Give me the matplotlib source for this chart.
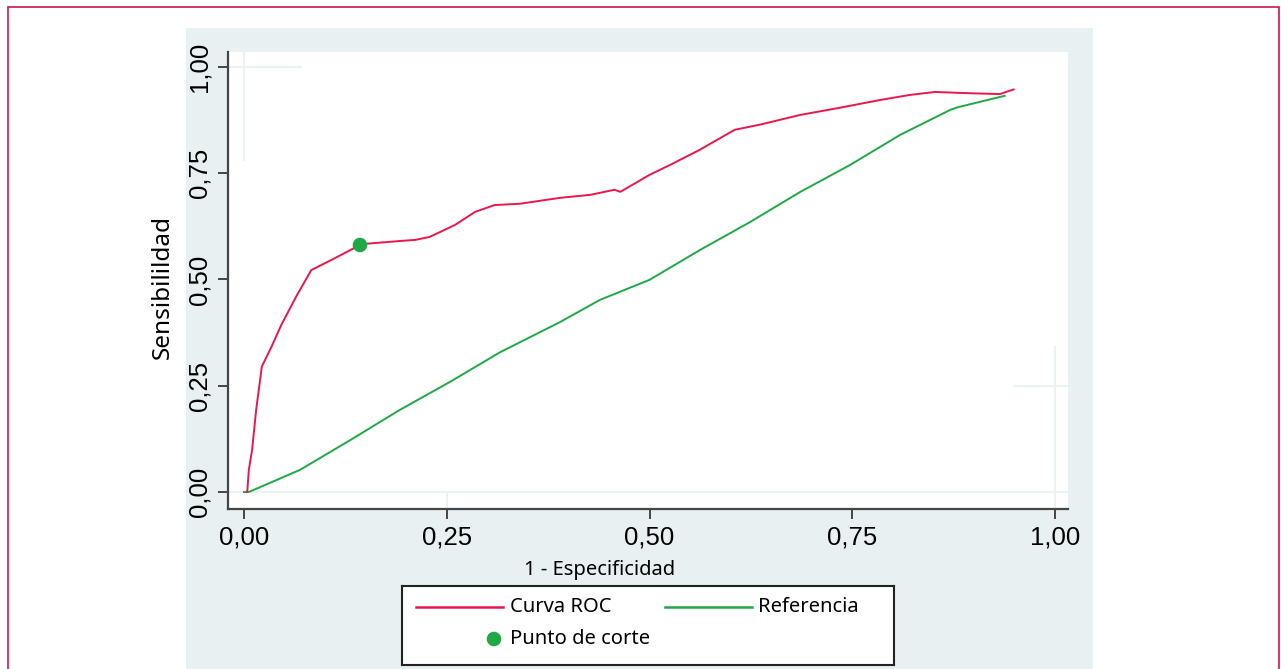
import matplotlib.pyplot as plt
from matplotlib.lines import Line2D
from matplotlib.patches import Rectangle

# ROC curve (1 - especificidad, sensibilidad)
roc_x = [0.004, 0.006, 0.010, 0.015, 0.022, 0.034, 0.046, 0.065, 0.083, 0.110,
         0.143, 0.151, 0.196, 0.211, 0.229, 0.260, 0.285, 0.309, 0.340, 0.390,
         0.427, 0.457, 0.464, 0.500, 0.525, 0.562, 0.605, 0.636, 0.686, 0.735,
         0.784, 0.821, 0.852, 0.895, 0.932, 0.949]
roc_y = [0.000, 0.052, 0.099, 0.193, 0.295, 0.342, 0.393, 0.462, 0.522, 0.548,
         0.581, 0.584, 0.591, 0.593, 0.600, 0.628, 0.659, 0.675, 0.678, 0.692,
         0.699, 0.711, 0.706, 0.746, 0.769, 0.805, 0.852, 0.864, 0.887, 0.904,
         0.922, 0.934, 0.941, 0.938, 0.936, 0.947]

# reference line
ref_x = [0.000, 0.006, 0.069, 0.131, 0.192, 0.254, 0.316, 0.390, 0.439, 0.500,
         0.562, 0.624, 0.686, 0.747, 0.809, 0.871, 0.880, 0.938]
ref_y = [0.000, 0.000, 0.052, 0.122, 0.193, 0.259, 0.329, 0.400, 0.452, 0.499,
         0.569, 0.635, 0.706, 0.769, 0.840, 0.899, 0.905, 0.932]

# cut-off point
cut_x = [0.143]
cut_y = [0.581]

ticks = [0.0, 0.25, 0.50, 0.75, 1.0]
tick_labels = ["0,00", "0,25", "0,50", "0,75", "1,00"]

RED = "#e8174c"
GREEN = "#1fa845"
PANEL = "#e8f0f2"
FAINT = "#ebf2f4"
SPINE = "#454545"

fig = plt.figure(figsize=(12.81, 6.69), dpi=100)
fig.patch.set_facecolor("white")

# grey panel behind the graph
bg = fig.add_axes([186 / 1281, 0, 907 / 1281, 1 - 28 / 669], zorder=-2)
bg.axis("off")
bg.add_patch(Rectangle((0, 0), 1, 1, transform=bg.transAxes,
                       facecolor=PANEL, edgecolor="none"))

# outer frame
fig.patches.append(Rectangle((8 / 1281, -0.1), 1271 / 1281, 1.1 - 7 / 669,
                             transform=fig.transFigure, facecolor="none",
                             edgecolor="#c8164f", linewidth=1.2))

ax = fig.add_axes([228 / 1281, 1 - 509 / 669, 840 / 1281, 457 / 669])
ax.set_facecolor("white")
ax.set_xlim(-0.0197, 1.016)
ax.set_ylim(-0.04, 1.035)

# faint grid remnants
ax.axhline(0, color=FAINT, lw=1.5, zorder=1)
ax.plot([1.0, 1.0], [-0.04, 0.34], color=FAINT, lw=1.5, zorder=1)
ax.plot([0.95, 1.016], [0.25, 0.25], color=FAINT, lw=1.5, zorder=1)
ax.plot([-0.0197, 0.07], [1.0, 1.0], color=FAINT, lw=1.5, zorder=1)
ax.plot([0.0, 0.0], [0.78, 1.035], color=FAINT, lw=1.5, zorder=1)
ax.plot([0.25, 0.25], [-0.04, 0.0], color=FAINT, lw=1.5, zorder=1)

ax.plot(ref_x, ref_y, color=GREEN, lw=1.4, zorder=3)
ax.plot(roc_x, roc_y, color=RED, lw=1.4, zorder=4)
ax.scatter(cut_x, cut_y, s=110, color=GREEN, edgecolor="none", zorder=5)

for side in ["top", "right"]:
    ax.spines[side].set_visible(False)
for side in ["left", "bottom"]:
    ax.spines[side].set_color(SPINE)
    ax.spines[side].set_linewidth(1.6)

ax.set_xticks(ticks)
ax.set_xticklabels(tick_labels)
ax.set_yticks(ticks)
ax.set_yticklabels(tick_labels, rotation=90, va="center")
ax.tick_params(direction="out", length=7, width=1.4, color=SPINE,
               labelsize=18.5, pad=5)
for lab in ax.get_xticklabels() + ax.get_yticklabels():
    lab.set_fontfamily("Liberation Sans")

fig.text(600 / 1281, 1 - 570 / 669, "1 - Especificidad", ha="center",
         va="center", fontsize=14.5, family="Noto Sans")
fig.text(163 / 1281, 1 - 287 / 669, "Sensibilildad", ha="center", va="center",
         rotation=90, fontsize=17.5, family="Noto Sans")

# legend box
leg = fig.add_axes([402 / 1281, 1 - 665 / 669, 492 / 1281, 79 / 669])
leg.set_xlim(402, 894)
leg.set_ylim(665, 586)
leg.set_xticks([])
leg.set_yticks([])
leg.set_facecolor("white")
for sp in leg.spines.values():
    sp.set_color("#222222")
    sp.set_linewidth(1.5)
leg.add_line(Line2D([416, 503], [607, 607], color=RED, lw=1.8))
leg.text(510, 607, "Curva ROC", va="center", fontsize=14.5, family="Noto Sans")
leg.add_line(Line2D([665, 752], [607, 607], color=GREEN, lw=1.8))
leg.text(758, 607, "Referencia", va="center", fontsize=14.5, family="Noto Sans")
leg.scatter([494], [639], s=110, color=GREEN, edgecolor="none")
leg.text(510, 639, "Punto de corte", va="center", fontsize=14.5,
         family="Noto Sans")

fig.savefig("out.png", dpi=100)
